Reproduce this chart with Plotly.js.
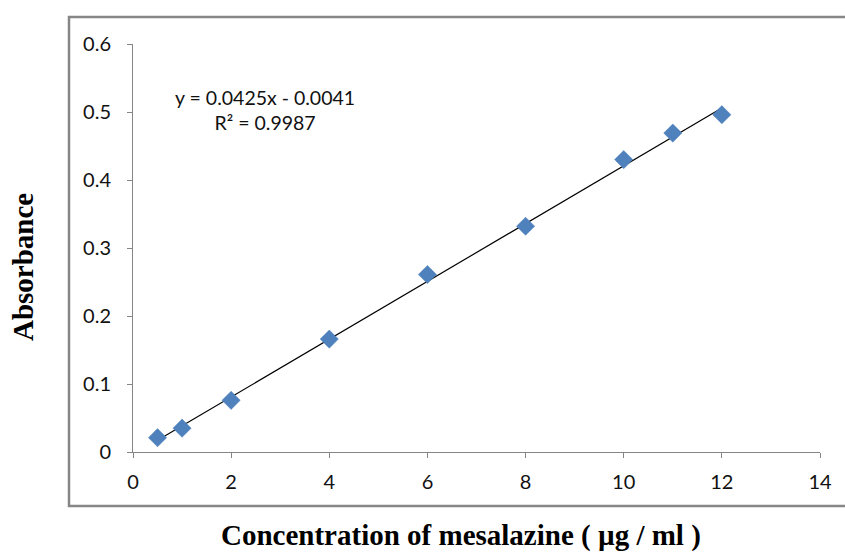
<!DOCTYPE html>
<html>
<head>
<meta charset="utf-8">
<script src="https://cdn.plot.ly/plotly-3.0.1.min.js"></script>
<style>html,body{margin:0;padding:0;background:#fff;}#chart{width:845px;height:553px;}</style>
</head>
<body>
<div id="chart"></div>
<script>
// Measured data (concentration µg/ml vs absorbance)
const concentration = [0.5, 1, 2, 4, 6, 8, 10, 11, 12];
const absorbance = [0.021, 0.035, 0.076, 0.166, 0.261, 0.332, 0.430, 0.469, 0.496];
// Linear trendline endpoints from the displayed equation y = 0.0425x - 0.0041
const trendX = [0.5, 12];
const trendY = [0.01715, 0.5059];
const equationText = "y = 0.0425x - 0.0041<br>R² = 0.9987";
const xTitle = 'Concentration of mesalazine ( µg / ml )';
const yTitle = 'Absorbance';
const xTicks = [0, 2, 4, 6, 8, 10, 12, 14];
const yTicks = [0, 0.1, 0.2, 0.3, 0.4, 0.5, 0.6];

const traces = [
  {
    x: trendX, y: trendY, type: 'scatter', mode: 'lines',
    line: {color: '#000000', width: 1.2}, hoverinfo: 'skip', showlegend: false
  },
  {
    x: concentration, y: absorbance, type: 'scatter', mode: 'markers',
    marker: {symbol: 'diamond', size: 14, color: '#4F81BD', line: {color: '#4A7EBB', width: 0.5}},
    showlegend: false
  }
];

const axisCommon = {
  showgrid: false, zeroline: false, showline: true, linecolor: '#868686', linewidth: 1,
  ticks: 'outside', ticklen: 5, tickcolor: '#868686', tickwidth: 1,
  tickfont: {family: 'Lato, "Open Sans", sans-serif', size: 20, color: '#111111'}
};

const titleFont = {family: '"Liberation Serif", "Times New Roman", serif', size: 29, color: '#000', weight: 'bold'};
const px = v => (v - 133) / 687;
const py = v => (452 - v) / 408;

const layout = {
  width: 845, height: 553,
  margin: {l: 133, r: 25, t: 44, b: 101},
  paper_bgcolor: '#ffffff', plot_bgcolor: '#ffffff',
  showlegend: false,
  xaxis: Object.assign({}, axisCommon, {
    range: [0, 14], tickvals: xTicks, ticktext: xTicks.map(String),
    ticklabelstandoff: 7,
    title: {text: ''}
  }),
  yaxis: Object.assign({}, axisCommon, {
    range: [0, 0.6], tickvals: yTicks, ticktext: yTicks.map(String),
    ticklabelstandoff: 12,
    title: {text: ''}
  }),
  annotations: [
    {xref: 'paper', yref: 'paper', x: px(265), y: py(110),
     xanchor: 'center', yanchor: 'middle', text: equationText, showarrow: false, align: 'center',
     font: {family: 'Lato, "Open Sans", sans-serif', size: 19.5, color: '#111111'}},
    {xref: 'paper', yref: 'paper', x: px(461), y: py(553),
     xanchor: 'center', yanchor: 'bottom', yshift: 0, text: xTitle, showarrow: false, font: titleFont,
     borderpad: 0},
    {xref: 'paper', yref: 'paper', x: px(23), y: py(267), textangle: -90,
     xanchor: 'center', yanchor: 'middle', text: yTitle, showarrow: false, font: titleFont}
  ],
  shapes: [
    {type: 'rect', xref: 'paper', yref: 'paper',
     x0: px(69), x1: px(860), y0: py(506), y1: py(17),
     line: {color: '#868686', width: 2.5}, fillcolor: 'rgba(0,0,0,0)', layer: 'below'}
  ]
};

Plotly.newPlot('chart', traces, layout, {displayModeBar: false, staticPlot: true});
</script>
</body>
</html>
